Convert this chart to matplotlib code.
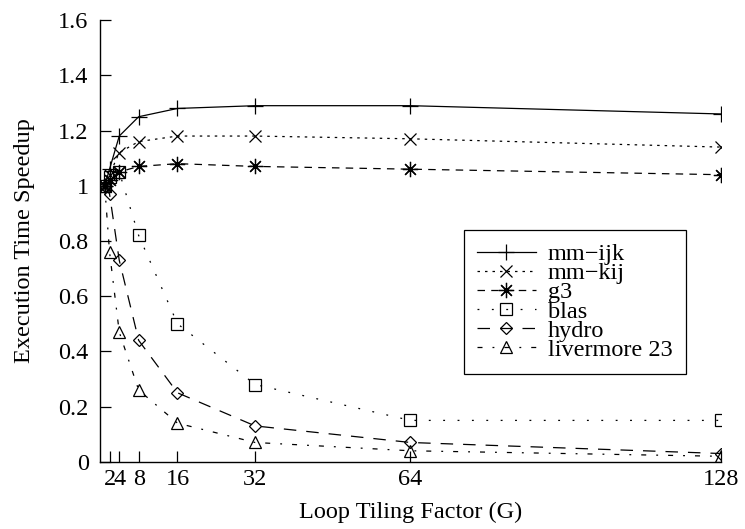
import matplotlib.pyplot as plt
import numpy as np

plt.rcParams['font.family'] = ['Liberation Serif', 'DejaVu Serif']

# Tiling factors and speedups
tiling = [1, 2, 4, 8, 16, 32, 64, 128]
mm_ijk = [1.0, 1.06, 1.18, 1.25, 1.28, 1.29, 1.29, 1.26]
mm_kij = [1.0, 1.04, 1.12, 1.16, 1.18, 1.18, 1.17, 1.14]
g3 = [1.0, 1.02, 1.05, 1.07, 1.08, 1.07, 1.06, 1.04]
blas = [1.0, 1.03, 1.05, 0.82, 0.50, 0.28, 0.15, 0.15]
hydro = [1.0, 0.97, 0.73, 0.44, 0.25, 0.13, 0.07, 0.03]
livermore = [1.0, 0.76, 0.47, 0.26, 0.14, 0.07, 0.04, 0.02]

labels = ['mm\u2212ijk', 'mm\u2212kij', 'g3', 'blas', 'hydro', 'livermore 23']
xticks = [2, 4, 8, 16, 32, 64, 128]
yticks = [0, 0.2, 0.4, 0.6, 0.8, 1, 1.2, 1.4, 1.6]

series = [mm_ijk, mm_kij, g3, blas, hydro, livermore]
markers = ['+', 'x', (8, 2, 0), 's', 'D', '^']
msizes = [12, 9, 11, 8, 6.5, 9]
dashes = [None, (2, 4), (6, 5), (1.5, 10), (10, 8), (4, 8, 1.5, 8)]

FS = 17.5

fig = plt.figure(figsize=(7.45, 5.29), dpi=100)
ax = fig.add_axes([0.134, 0.127, 0.834, 0.835])

for ys, lab, m, ms, d in zip(series, labels, markers, msizes, dashes):
    line, = ax.plot(tiling, ys, color='black', lw=0.9, marker=m, markersize=ms,
                    markerfacecolor='none', markeredgecolor='black', markeredgewidth=0.9,
                    label=lab)
    if d is not None:
        line.set_dashes(d)

ax.set_xlim(0, 128)
ax.set_ylim(0, 1.6)
ax.set_xticks(xticks)
ax.set_xticklabels([str(t) for t in xticks])
ax.set_yticks(yticks)
ax.set_yticklabels(['%g' % t for t in yticks])
ax.tick_params(direction='in', length=8, width=0.9, labelsize=FS, pad=8,
               top=False, right=False)
ax.tick_params(axis='x', pad=5)
ax.spines['top'].set_visible(False)
ax.spines['right'].set_visible(False)
for s in ['left', 'bottom']:
    ax.spines[s].set_linewidth(1.0)

ax.set_xlabel('Loop Tiling Factor (G)', fontsize=FS, labelpad=9)
ax.set_ylabel('Execution Time Speedup', fontsize=FS, labelpad=17)

leg = ax.legend(loc='upper left', bbox_to_anchor=(0.586, 0.525), fontsize=FS,
                frameon=True, fancybox=False, edgecolor='black', framealpha=1,
                handlelength=2.4, borderpad=0.55, labelspacing=-0.12,
                handletextpad=0.5, borderaxespad=0)
leg.get_frame().set_linewidth(0.9)

plt.savefig('out.png', dpi=100)
